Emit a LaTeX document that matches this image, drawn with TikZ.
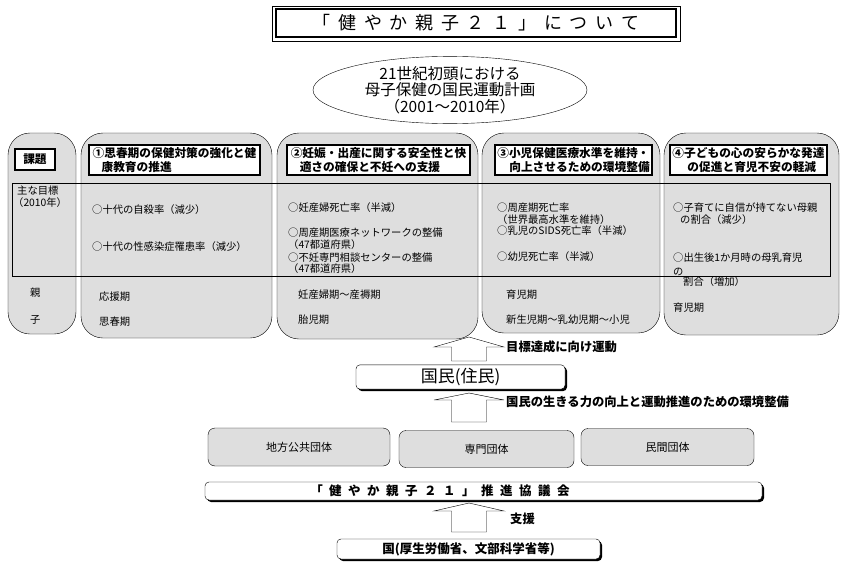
\documentclass[tikz,border=0pt]{standalone}
\usepackage{fontspec}
\setmainfont{Noto Sans CJK JP}
\usetikzlibrary{shapes.geometric,shadows}

\begin{document}
\begin{tikzpicture}[x=1pt,y=-1pt,
    colbox/.style={draw,fill=black!13,rounded corners=22pt},
    headbox/.style={draw,fill=white,line width=1.2pt,minimum height=30pt,inner sep=1pt,align=left,font=\bfseries\fontsize{11.7}{13.5}\selectfont},
    item/.style={anchor=west,inner sep=0pt,font=\fontsize{10.3}{12}\selectfont},
    note/.style={anchor=west,inner sep=0pt,font=\bfseries\fontsize{12.3}{14}\selectfont},
    orgbox/.style={draw,fill=black!13,rounded corners=7pt,font=\fontsize{11}{12}\selectfont},
    shadowbox/.style={draw,fill=white,rounded corners=4pt,drop shadow={shadow xshift=2pt,shadow yshift=-2pt,opacity=1,fill=black}},
    bigarrow/.style={draw,fill=white}]

\useasboundingbox[fill=white] (0,0) rectangle (847,565);

% title
\node[draw,line width=2pt,outer sep=0pt,minimum width=400pt,minimum height=28pt,inner sep=0pt,font=\fontsize{18}{20}\selectfont] (title) at (476,23)
  {\foreach \c in {「,健,や,か,親,子,２,１,」,に,つ,い,て}{\makebox[25.7pt]{\c}}};
\draw ([shift={(-4pt,3pt)}]title.north west) rectangle ([shift={(4pt,-4pt)}]title.south east);

\node[ellipse,draw,minimum width=274pt,minimum height=67pt,inner sep=0pt,align=center,font=\fontsize{15.5}{16.5}\selectfont] (plan) at (450,90)
  {21世紀初頭における\\母子保健の国民運動計画\\（2001～2010年）};

% columns and target band
\foreach \xa/\xb/\yb in {8/76/334,81/272/338,277/478/339,482/660/333,664/839/335}
  \draw[colbox] (\xa,133) rectangle (\xb,\yb);
\draw (12,183) rectangle (830,276);

\node[headbox,minimum width=40pt,minimum height=21pt] (kadai) at (35,159.5) {課題};
\node[headbox,minimum width=171pt] (hd1) at (174.5,160) {①思春期の保健対策の強化と健\\\hspace{9pt}康教育の推進};
\node[headbox,minimum width=183pt] (hd2) at (378.5,160) {②妊娠・出産に関する安全性と快\\\hspace{9pt}適さの確保と不妊への支援};
\node[headbox,minimum width=157pt] (hd3) at (573.5,160) {③小児保健医療水準を維持・\\\hspace{12pt}向上させるための環境整備};
\node[headbox,minimum width=157pt] (hd4) at (748.5,160) {④子どもの心の安らかな発達\\\hspace{15pt}の促進と育児不安の軽減};

% column 0
\node[item] (goal) at (17,191) {主な目標};
\node[item] (goalyr) at (13,203) {（2010年）};
\node[item] (oya) at (30,293) {親};
\node[item] (ko) at (30,320) {子};

% column 1
\node[item] (c1a) at (92,210) {○十代の自殺率（減少）};
\node[item] (c1b) at (92,247) {○十代の性感染症罹患率（減少）};
\node[item] (c1p) at (99,297) {応援期};
\node[item] (c1q) at (99,322) {思春期};

% column 2
\node[item] (c2a) at (288,208) {○妊産婦死亡率（半減）};
\node[item] (c2b) at (288,233) {○周産期医療ネットワークの整備};
\node[item] (c2c) at (288,245) {（47都道府県）};
\node[item] (c2d) at (288,258) {○不妊専門相談センターの整備};
\node[item] (c2e) at (288,269) {（47都道府県）};
\node[item] (c2p) at (298,295) {妊産婦期～産褥期};
\node[item] (c2q) at (298,320) {胎児期};

% column 3
\node[item] (c3a) at (497,208) {○周産期死亡率};
\node[item] (c3b) at (497,220) {（世界最高水準を維持）};
\node[item] (c3c) at (497,231) {○乳児のSIDS死亡率（半減）};
\node[item] (c3d) at (497,257) {○幼児死亡率（半減）};
\node[item] (c3p) at (506,295) {育児期};
\node[item] (c3q) at (506,320) {新生児期～乳幼児期～小児};

% column 4
\node[item] (c4a) at (673,208) {○子育てに自信が持てない母親};
\node[item] (c4b) at (680,220) {の割合（減少）};
\node[item] (c4c) at (673,258) {○出生後1か月時の母乳育児};
\node[item] (c4d) at (673,272) {の};
\node[item] (c4e) at (683,282) {割合（増加）};
\node[item] (c4p) at (673,308) {育児期};

% lower part
\node[shadowbox,minimum width=209pt,minimum height=21pt,font=\fontsize{17}{18}\selectfont] (kokumin) at (460.5,377) {国民(住民)};
\node[orgbox,minimum width=182pt,minimum height=38pt] (chiho) at (299,447) {地方公共団体};
\node[orgbox,minimum width=175pt,minimum height=37pt] (senmon) at (486.5,449) {専門団体};
\node[orgbox,minimum width=173pt,minimum height=37pt] (minkan) at (667.5,447) {民間団体};
\node[shadowbox,minimum width=557pt,minimum height=18pt] (suishin) at (483.5,491) {};
\node[inner sep=0pt,font=\bfseries\fontsize{12.5}{14}\selectfont] (suishintxt) at (440,491)
  {\foreach \c in {「,健,や,か,親,子,２,１,」,推,進,協,議,会}{\makebox[19pt]{\c}}};
\node[shadowbox,minimum width=263pt,minimum height=18pt,font=\bfseries\fontsize{12.5}{14}\selectfont] (kuni) at (468.5,549) {国(厚生労働省、文部科学省等)};

\coordinate (t1) at (469,337);
\coordinate (t2) at (469,393);
\coordinate (t3) at (469,503);
\foreach \t/\h/\l in {t1/10/24,t2/7/29,t3/8/29}
  \draw[bigarrow] (\t) -- ++(35,\h) -- ++(-17.5,0) -- ++(0,\l-\h) -- ++(-35,0) -- ++(0,\h-\l) -- ++(-17.5,0) -- cycle;

\node[note] (lab1) at (506,347) {目標達成に向け運動};
\node[note] (lab2) at (506,402) {国民の生きる力の向上と運動推進のための環境整備};
\node[note] (lab3) at (510,519) {支援};
\end{tikzpicture}
\end{document}
